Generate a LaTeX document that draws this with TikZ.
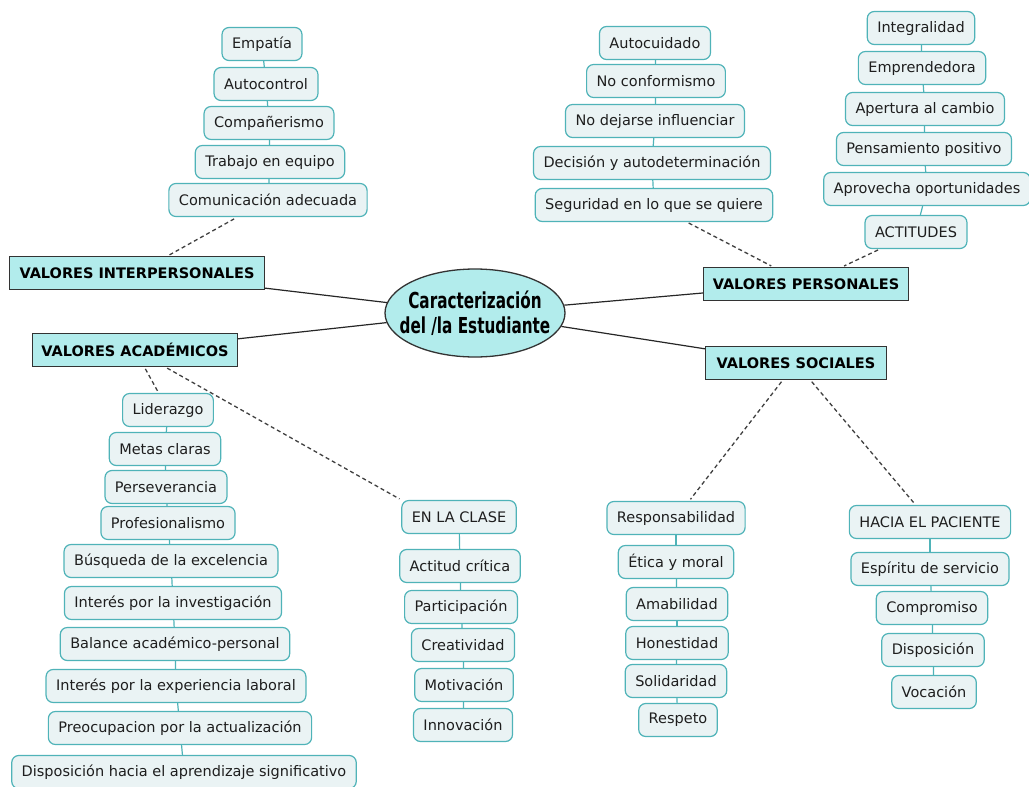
\documentclass[tikz,border=0pt]{standalone}
\usepackage{fontspec}
\usepackage{graphicx}
\setmainfont{DejaVu Sans}
\newfontfamily\condfont{DejaVu Sans Condensed}
\usetikzlibrary{shapes.geometric}
\definecolor{cian}{HTML}{B2ECEC}
\definecolor{hojafondo}{HTML}{EAF3F4}
\definecolor{turquesa}{HTML}{4FB3B8}
\definecolor{tinta}{HTML}{1E1E1E}
\newcommand{\angosto}[1]{\makebox[0pt]{\scalebox{0.77}[1]{#1}}}
\tikzstyle{hoja}=[draw=turquesa, fill=hojafondo, rounded corners=7pt, line width=1.2pt, minimum height=33pt, inner xsep=10pt, text=tinta, font=\fontsize{14.5}{16}\selectfont]
\tikzstyle{valor}=[draw=black!80, fill=cian, line width=1.3pt, minimum height=33pt, font=\fontsize{14.5}{16}\selectfont\bfseries]
\tikzstyle{centro}=[ellipse, draw=black!80, fill=cian, line width=1.3pt, inner sep=0pt, minimum width=180pt, minimum height=88pt, align=center, font=\condfont\bfseries\fontsize{22}{25}\selectfont]
\tikzstyle{rama}=[draw=black!85, line width=1.2pt]
\tikzstyle{punteado}=[draw=black!75, dash pattern=on 4pt off 3pt, line width=1.3pt, shorten >=2pt, shorten <=2pt]
\tikzstyle{enlace}=[draw=turquesa, line width=1.2pt]

\begin{document}
\begin{tikzpicture}[x=1pt, y=-1pt]
      \useasboundingbox (0,0) rectangle (1029,787);
      % centro
      \node [centro] (est) at (475,313) {\angosto{Caracterización}\\\angosto{del /la Estudiante}};
      % valores
      \node [valor, minimum width=255pt] (vinter) at (137,273) {VALORES INTERPERSONALES};
      \node [valor, minimum width=205pt] (vacad) at (135,350) {VALORES ACADÉMICOS};
      \node [valor, minimum width=205pt] (vpers) at (806,284) {VALORES PERSONALES};
      \node [valor, minimum width=181pt] (vsoc) at (796,363) {VALORES SOCIALES};
      \path[rama] (vinter) edge (est);
      \path[rama] (vacad) edge (est);
      \path[rama] (est) edge (vpers);
      \path[rama] (est) edge (vsoc);
      % interpersonales
      \node [hoja] (empat) at (262,44) {Empatía};
      \node [hoja] (autoc) at (266,84) {Autocontrol};
      \node [hoja] (compa) at (269,123) {Compañerismo};
      \node [hoja] (equipo) at (270,162) {Trabajo en equipo};
      \node [hoja] (comun) at (268,200) {Comunicación adecuada};
      \path[enlace] (empat) edge (autoc) (autoc) edge (compa) (compa) edge (equipo) (equipo) edge (comun);
      \path[punteado] (vinter) edge (comun);
      % personales
      \node [hoja] (autocu) at (655,43) {Autocuidado};
      \node [hoja] (noconf) at (656,81) {No conformismo};
      \node [hoja] (noinfl) at (655,121) {No dejarse influenciar};
      \node [hoja] (decis) at (652,163) {Decisión y autodeterminación};
      \node [hoja] (segur) at (654,205) {Seguridad en lo que se quiere};
      \path[enlace] (autocu) edge (noconf) (noconf) edge (noinfl) (noinfl) edge (decis) (decis) edge (segur);
      \path[punteado] (segur) edge (vpers);
      \node [hoja] (integ) at (921,28) {Integralidad};
      \node [hoja] (empre) at (922,68) {Emprendedora};
      \node [hoja] (apert) at (925,109) {Apertura al cambio};
      \node [hoja] (pensa) at (924,149) {Pensamiento positivo};
      \node [hoja] (aprov) at (927,189) {Aprovecha oportunidades};
      \node [hoja] (actit) at (916,232) {ACTITUDES};
      \path[enlace] (integ) edge (empre) (empre) edge (apert) (apert) edge (pensa) (pensa) edge (aprov) (aprov) edge (actit);
      \path[punteado] (actit) edge (vpers);
      % academicos
      \node [hoja] (lider) at (168,410) {Liderazgo};
      \node [hoja] (metas) at (165,449) {Metas claras};
      \node [hoja] (perse) at (166,487) {Perseverancia};
      \node [hoja] (profe) at (168,523) {Profesionalismo};
      \node [hoja] (excel) at (171,561) {Búsqueda de la excelencia};
      \node [hoja] (inves) at (173,603) {Interés por la investigación};
      \node [hoja] (balan) at (175,644) {Balance académico-personal};
      \node [hoja] (exper) at (176,686) {Interés por la experiencia laboral};
      \node [hoja] (actua) at (180,728) {Preocupacion por la actualización};
      \node [hoja] (aprend) at (184,772) {Disposición hacia el aprendizaje significativo};
      \path[enlace] (lider) edge (metas) (metas) edge (perse) (perse) edge (profe) (profe) edge (excel) (excel) edge (inves) (inves) edge (balan) (balan) edge (exper) (exper) edge (actua) (actua) edge (aprend);
      \path[punteado] (vacad) edge (lider);
      \node [hoja] (clase) at (459,517) {EN LA CLASE};
      \node [hoja] (criti) at (460,566) {Actitud crítica};
      \node [hoja] (parti) at (461,607) {Participación};
      \node [hoja] (creat) at (463,645) {Creatividad};
      \node [hoja] (motiv) at (464,685) {Motivación};
      \node [hoja] (innov) at (463,725) {Innovación};
      \path[enlace] (clase) edge (criti) (criti) edge (parti) (parti) edge (creat) (creat) edge (motiv) (motiv) edge (innov);
      \path[punteado] (vacad) edge (clase.north west);
      % sociales
      \node [hoja] (respo) at (676,518) {Responsabilidad};
      \node [hoja] (etica) at (676,562) {Ética y moral};
      \node [hoja] (amabi) at (677,604) {Amabilidad};
      \node [hoja] (hones) at (677,643) {Honestidad};
      \node [hoja] (solid) at (676,681) {Solidaridad};
      \node [hoja] (respe) at (678,720) {Respeto};
      \path[enlace] (respo) edge (etica) (etica) edge (amabi) (amabi) edge (hones) (hones) edge (solid) (solid) edge (respe);
      \path[punteado] (vsoc) edge (respo);
      \node [hoja] (pacie) at (930,522) {HACIA EL PACIENTE};
      \node [hoja] (servi) at (930,569) {Espíritu de servicio};
      \node [hoja] (compr) at (932,608) {Compromiso};
      \node [hoja] (dispo) at (933,650) {Disposición};
      \node [hoja] (vocac) at (934,692) {Vocación};
      \path[enlace] (pacie) edge (servi) (servi) edge (compr) (compr) edge (dispo) (dispo) edge (vocac);
      \path[punteado] (vsoc) edge (pacie);
\end{tikzpicture}
\end{document}
